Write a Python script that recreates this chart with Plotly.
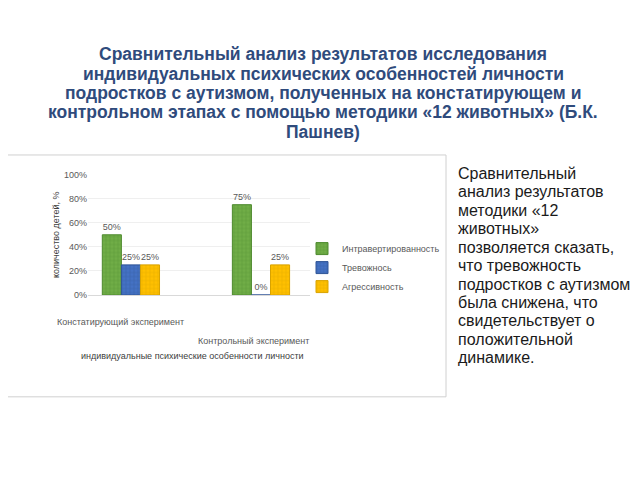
import plotly.graph_objects as go

categories = ["Констатирующий эксперимент", "Контрольный эксперимент"]
series_names = ["Интравертированность", "Тревожнось", "Агрессивность"]
intro_vals = [50, 75]
anxiety_vals = [25, 0]
aggr_vals = [25, 25]
y_ticks = [0, 20, 40, 60, 80, 100]
y_tick_text = [f"{t}%" for t in y_ticks]

colors = ["#70AD47", "#4472C4", "#FFC000"]
pat_colors = ["#4E8A2E", "#2F5597", "#D9A300"]

title_lines = [
    "Сравнительный анализ результатов исследования",
    "индивидуальных психических особенностей личности",
    "подростков с аутизмом, полученных на констатирующем и",
    "контрольном этапах с помощью методики «12 животных» (Б.К.",
    "Пашнев)",
]
side_lines = [
    "Сравнительный", "анализ результатов", "методики «12", "животных»",
    "позволяется сказать,", "что тревожность", "подростков с аутизмом",
    "была снижена, что", "свидетельствует о", "положительной", "динамике.",
]

OFF = 8  # page body margin


def px(x):
    return (x - OFF) / 640


def py(y):
    return 1 - (y - OFF) / 480


fig = go.Figure()
for name, vals, c, pc in zip(series_names, [intro_vals, anxiety_vals, aggr_vals], colors, pat_colors):
    fig.add_trace(go.Bar(
        x=categories, y=vals, name=name,
        marker=dict(color=c, line=dict(color=pc, width=1),
                    pattern=dict(shape="+", fgcolor=pc, size=4, solidity=0.3)),
        text=[f"{v}%" for v in vals], texttemplate="%{text}", textposition="outside",
        textfont=dict(size=9, color="#595959", family="Liberation Sans"),
        cliponaxis=False, hoverinfo="skip",
    ))

fig.update_layout(
    width=640, height=480,
    margin=dict(l=0, r=0, t=0, b=0),
    paper_bgcolor="white", plot_bgcolor="white",
    barmode="group", bargap=0.56, bargroupgap=0,
    showlegend=True,
    legend=dict(x=px(302), y=py(268), xanchor="left", yanchor="middle",
                font=dict(size=9, color="#595959", family="Liberation Sans"),
                itemwidth=30, tracegroupgap=4, bgcolor="rgba(0,0,0,0)"),
    xaxis=dict(domain=[px(88), px(310)], range=[-0.33, 1.377], showticklabels=False,
               showline=True, linecolor="#D9D9D9", ticks=""),
    yaxis=dict(domain=[py(296), py(173)], range=[0, 100],
               tickvals=y_ticks, ticktext=y_tick_text, showgrid=True, gridcolor="#EFEFEF",
               tickfont=dict(size=9, color="#595959", family="Liberation Sans"),
               zeroline=False,
               title=dict(text="количество детей, %", standoff=2,
                          font=dict(size=9, color="#404040", family="Liberation Sans"))),
    font=dict(family="Liberation Sans"),
)

# chart image frame
fig.add_shape(type="rect", xref="paper", yref="paper",
              x0=px(3), x1=px(446), y0=py(400), y1=py(153),
              line=dict(color="#D0D0D0", width=1), fillcolor="rgba(0,0,0,0)", layer="below")

# title lines
for i, line in enumerate(title_lines):
    fig.add_annotation(text="<b>" + line + "</b>", xref="paper", yref="paper",
                       x=px(323), y=py(50 + i * 19.8), xanchor="center", yanchor="middle",
                       showarrow=False,
                       font=dict(size=17.5, color="#2F4B7C", family="Liberation Sans"))

# category labels
for cat, ypix, shift in zip(categories, [324, 343], [-10, -7]):
    fig.add_annotation(text=cat, xref="x", yref="paper", x=cat, y=py(ypix), xshift=shift,
                       showarrow=False, xanchor="center", yanchor="middle",
                       font=dict(size=9, color="#595959", family="Liberation Sans"))

# x-axis title
fig.add_annotation(text="индивидуальные психические особенности личности",
                   xref="paper", yref="paper", x=px(192), y=py(358),
                   showarrow=False, xanchor="center", yanchor="middle",
                   font=dict(size=9, color="#404040", family="Liberation Sans"))

# side text
for i, line in enumerate(side_lines):
    fig.add_annotation(text=line, xref="paper", yref="paper",
                       x=px(456), y=py(172 + i * 18.8), xanchor="left", yanchor="middle",
                       showarrow=False, align="left",
                       font=dict(size=16, color="#1A1A1A", family="Liberation Sans"))

fig.write_html("out.html")
